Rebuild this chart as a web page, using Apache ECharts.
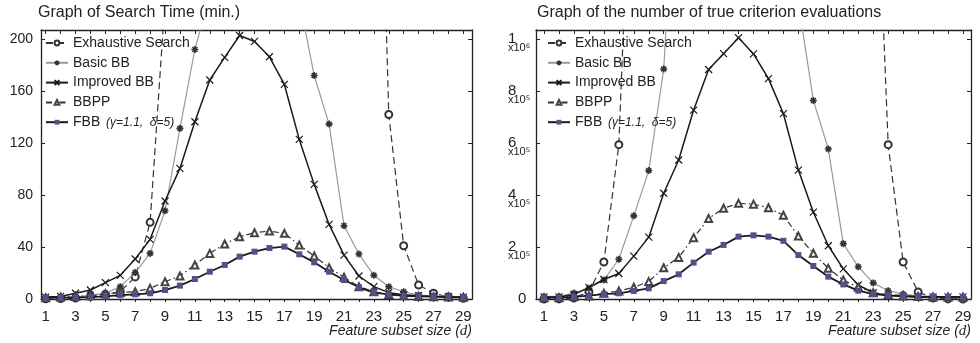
<!DOCTYPE html>
<html>
<head>
<meta charset="utf-8">
<script src="https://cdn.jsdelivr.net/npm/echarts@6/dist/echarts.min.js"></script>
<style>
html,body{margin:0;padding:0;background:#fff;}
#chart{width:980px;height:343px;}
</style>
</head>
<body>
<div id="chart"></div>
<script>
// ---------- data ----------
const featureSize = [1,2,3,4,5,6,7,8,9,10,11,12,13,14,15,16,17,18,19,20,21,22,23,24,25,26,27,28,29];
const xTickLabels = [1,3,5,7,9,11,13,15,17,19,21,23,25,27,29];
const seriesNames = ['Exhaustive Search','Basic BB','Improved BB','BBPP','FBB'];

// Search time (min.)
const exhaustiveTime = [0.1,0.3,0.8,2,3.5,5.6,17,59,230,600,1200,2000,2800,3400,3600,3500,3200,2700,2200,1700,1300,950,550,142,41,10.8,4.4,1.5,0.5];
const basicTime      = [1,1,1.5,3,4.4,9.5,20.3,35.1,67.9,131.3,192,234,270,290,295,285,265,230,172,134.6,56.4,34.6,18.2,9.5,5.6,3,2.5,2,1.5];
const improvedTime   = [1.5,2,4.4,6.9,12.6,18.2,30.8,45.9,75.4,100.5,136.4,168.5,185.9,202.8,198.2,186.4,165.1,122.8,88.2,57.4,33.8,17.7,9.5,4.9,3.3,2.5,2,1.8,1.5];
const bbppTime       = [1,1.5,2,2.5,4,5,5.6,8.2,13.3,17.7,26.2,35.1,42.3,47.9,51,52.3,50.5,41.5,33.1,24.1,16.7,9.5,5.6,3.5,2.5,2,1.8,1.5,1.3];
const fbbTime        = [1,1,1.2,1.5,2,3,3.6,4.4,6.9,10.3,15.4,21,26.2,32.6,36.4,39.2,40.3,34.4,28.2,21,14.6,9,4.9,3.5,2.5,2,1.8,1.5,1.3];

// Number of true criterion evaluations
const exhaustiveEval = [30,435,4060,27405,142506,593775,2035800,5852925,14307150,30045015,54627300,86493225,119759850,145422675,155117520,145422675,119759850,86493225,54627300,30045015,14307150,5852925,2035800,593775,142506,27405,4060,435,30];
const basicEval      = [10000,10000,23000,41000,73000,153000,320000,494000,885000,1900000,2600000,3000000,3200000,3200000,3000000,2500000,1800000,1140000,764000,577000,213000,124000,62000,32000,19000,12000,10000,8000,5000];
const improvedEval   = [8000,8000,17000,45000,75000,98000,165000,238000,407000,535000,727000,883000,944000,1005000,943000,848000,713000,496000,334000,205000,116000,54000,24000,13000,10000,8000,8000,8000,8000];
const bbppEval       = [5000,5000,10000,12000,22000,31000,45000,67000,120000,160000,236000,310000,349000,368000,365000,351000,322000,242000,176000,118000,73000,45000,24000,17000,12000,10000,8000,8000,8000];
const fbbEval        = [5000,5000,8000,13000,19000,22000,31000,41000,69000,95000,140000,182000,208000,240000,245000,240000,224000,169000,127000,86000,56000,32000,19000,14000,12000,8000,8000,8000,8000];

const leftYTicks = [0,40,80,120,160,200];
const rightYTicks = [0,200000,400000,600000,800000,1000000];
const rightYMantissa = ['0','2','4','6','8','1'];
const rightYExponent = ['','\u2075','\u2075','\u2075','\u2075','\u2076'];

// ---------- chart ----------
const FONT = 'Liberation Sans, Arial, Helvetica, sans-serif';
const AX = '#222';
const chart = echarts.init(document.getElementById('chart'), null, {renderer:'canvas'});

const asteriskPath = 'path://M5,0L5,10M0,5L10,5M1.5,1.5L8.5,8.5M8.5,1.5L1.5,8.5';
const crossPath = 'path://M0,0L10,10M10,0L0,10';

const styles = [
  {lineStyle:{color:'#333',width:1.2,type:[7,4]}, symbol:'emptyCircle', symbolSize:7, itemStyle:{color:'#333',borderWidth:1}},
  {lineStyle:{color:'#9a9a9a',width:1.2}, symbol:asteriskPath, symbolSize:7, itemStyle:{color:'#333',borderColor:'#333',borderWidth:1.6}},
  {lineStyle:{color:'#1a1a1a',width:1.5}, symbol:crossPath, symbolSize:7, itemStyle:{color:'#1a1a1a',borderColor:'#1a1a1a',borderWidth:1.2}},
  {lineStyle:{color:'#333',width:1.2,type:[6,3,1.5,3]}, symbol:'emptyTriangle', symbolSize:7, itemStyle:{color:'#444',borderWidth:1}},
  {lineStyle:{color:'#1a1a1a',width:1.8}, symbol:'rect', symbolSize:6, itemStyle:{color:'#50508a'}}
];

function pairs(vals){ return featureSize.map((x,i)=>[x, vals[i]]); }

function mk(idx, vals, axisIdx){
  const s = styles[idx];
  return Object.assign({
    type:'line', name:seriesNames[idx], data:pairs(vals),
    xAxisIndex:axisIdx, yAxisIndex:axisIdx, clip:true, showAllSymbol:true,
    emphasis:{disabled:true}, animation:false, z:2+idx
  }, JSON.parse(JSON.stringify(s)));
}

function xAx(gridIndex, min, max, pos){
  const bottom = pos === 'bottom';
  return {
    type:'value', gridIndex, position:pos, min, max,
    axisLine:{show:true, onZero:false, lineStyle:{color:AX,width:1.3}},
    axisTick:{show:true, inside:!bottom, length:bottom?3:4, customValues:featureSize, lineStyle:{color:AX,width:1}},
    axisLabel:{show:bottom, customValues:xTickLabels, margin:10, fontSize:15, color:'#222', fontFamily:FONT},
    splitLine:{show:false},
    name: bottom ? 'Feature subset size ({d|d})' : '',
    nameLocation:'end', nameGap:0,
    nameTextStyle:{align:'right', verticalAlign:'top', padding:[25,0,0,0], fontSize:14, fontStyle:'italic', color:'#222', fontFamily:FONT,
      rich:{d:{fontFamily:'Liberation Serif, Times New Roman, serif', fontStyle:'italic', fontSize:15, color:'#222'}}}
  };
}

function yAx(gridIndex, max, ticks, pos, labelCfg){
  const left = pos === 'left';
  return {
    type:'value', gridIndex, position:pos, min:0, max,
    axisLine:{show:true, lineStyle:{color:AX,width:1.3}},
    axisTick:{show:true, inside:true, length:4, customValues:ticks, lineStyle:{color:AX,width:1}},
    axisLabel: left ? Object.assign({show:true, customValues:ticks, color:'#222', fontFamily:FONT}, labelCfg) : {show:false},
    splitLine:{show:false}
  };
}

const legendRich = {it:{fontStyle:'italic', fontSize:12, fontFamily:FONT, color:'#222', padding:[0,0,0,2]}};
function legendFmt(name){ return name === 'FBB' ? 'FBB {it|(\u03b3=1.1,  \u03b4=5)}' : name; }
function legend(left){
  return {
    left, top:35, orient:'vertical', padding:0, itemWidth:22, itemHeight:6, itemGap:3.8,
    data:seriesNames, formatter:legendFmt, selectedMode:false,
    textStyle:{fontSize:14, lineHeight:16, color:'#222', fontFamily:FONT, rich:legendRich}
  };
}

const option = {
  backgroundColor:'#fff',
  animation:false,
  title:[
    {text:'Graph of Search Time (min.)', left:38, top:5, padding:0, textStyle:{fontSize:16, fontWeight:'normal', color:'#222', fontFamily:FONT}},
    {text:'Graph of the number of true criterion evaluations', left:537, top:5, padding:0, textStyle:{fontSize:16, fontWeight:'normal', color:'#222', fontFamily:FONT}}
  ],
  legend:[legend(45), legend(547)],
  grid:[
    {left:41, right:508, top:30, bottom:44, containLabel:false},
    {left:536, right:9, top:30, bottom:44, containLabel:false}
  ],
  xAxis:[
    xAx(0, 0.685, 29.58, 'bottom'),
    xAx(0, 0.685, 29.58, 'top'),
    xAx(1, 0.465, 29.535, 'bottom'),
    xAx(1, 0.465, 29.535, 'top')
  ],
  yAxis:[
    yAx(0, 207, leftYTicks, 'left', {margin:8, fontSize:14}),
    yAx(0, 207, leftYTicks, 'right'),
    yAx(1, 1035000, rightYTicks, 'left', {
      margin:28, align:'left',
      formatter:function(v){
        const i = rightYTicks.indexOf(v);
        if (i < 0) return '';
        if (v === 0) return '{z|' + rightYMantissa[i] + '}';
        return '{b| }\n{n|' + rightYMantissa[i] + '}\n{e|x10' + rightYExponent[i] + '}';
      },
      rich:{
        z:{fontSize:15, fontFamily:FONT, color:'#222', padding:[0,0,0,10]},
        b:{fontSize:1, lineHeight:8, height:8},
        n:{fontSize:15, lineHeight:10, fontFamily:FONT, color:'#222'},
        e:{fontSize:11, lineHeight:8, fontFamily:FONT, color:'#222'}
      }
    }),
    yAx(1, 1035000, rightYTicks, 'right')
  ],
  series:[
    mk(0, exhaustiveTime, 0), mk(1, basicTime, 0), mk(2, improvedTime, 0), mk(3, bbppTime, 0), mk(4, fbbTime, 0),
    mk(0, exhaustiveEval, 2), mk(1, basicEval, 2), mk(2, improvedEval, 2), mk(3, bbppEval, 2), mk(4, fbbEval, 2)
  ]
};
chart.setOption(option);
</script>
</body>
</html>
